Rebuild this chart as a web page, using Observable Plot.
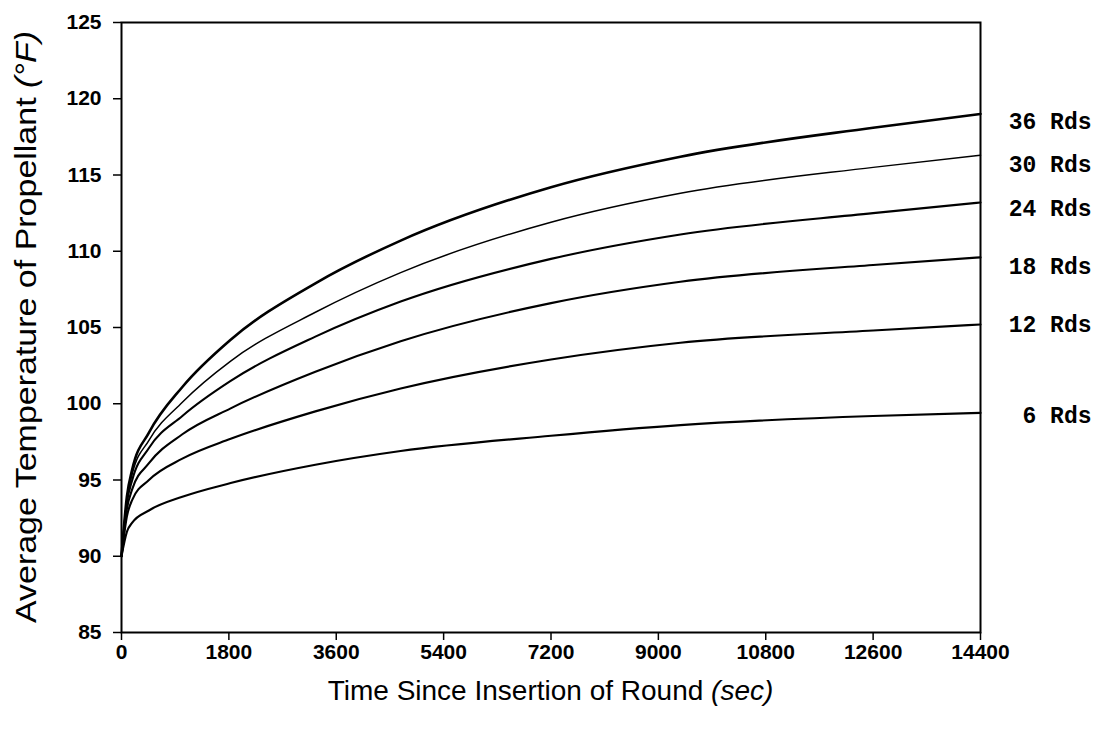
<!DOCTYPE html>
<html>
<head>
<meta charset="utf-8">
<script src="https://cdn.jsdelivr.net/npm/d3@7"></script>
<script src="https://cdn.jsdelivr.net/npm/@observablehq/plot@0.6"></script>
<style>
  html, body { margin: 0; padding: 0; background: #fff; }
  #chart svg g[aria-label$="tick label"] text { font-size: 21px; font-weight: bold; }
</style>
</head>
<body>
<div id="chart"></div>
<script>
// ---- Data ----
const times = [0, 90, 180, 460, 1020, 1830, 3250, 4680, 7200, 9370, 12600, 14400];
const rds36 = [90, 93.9, 95.7, 98.1, 101.1, 104.2, 107.9, 110.7, 114.2, 116.2, 118.1, 119.0];
const rds30 = [90, 93.7, 95.4, 97.6, 100.1, 102.8, 106.0, 108.6, 111.9, 113.8, 115.5, 116.3];
const rds24 = [90, 93.5, 95.0, 97.1, 99.2, 101.5, 104.4, 106.7, 109.5, 111.1, 112.5, 113.2];
const rds18 = [90, 93.1, 94.4, 96.1, 98.0, 99.7, 102.1, 104.1, 106.6, 108.0, 109.1, 109.6];
const rds12 = [90, 92.6, 93.7, 95.0, 96.4, 97.7, 99.5, 101.0, 102.9, 104.0, 104.8, 105.2];
const rds6  = [90, 91.6, 92.2, 93.0, 93.9, 94.8, 96.0, 96.9, 97.9, 98.6, 99.2, 99.4];
const seriesNames = ["36 Rds", "30 Rds", "24 Rds", "18 Rds", "12 Rds", "6 Rds"];
const seriesValues = [rds36, rds30, rds24, rds18, rds12, rds6];
const labelTemps = [118.5, 115.65, 112.8, 109.0, 105.2, 99.2];
const xTicks = [0, 1800, 3600, 5400, 7200, 9000, 10800, 12600, 14400];
const yTicks = [85, 90, 95, 100, 105, 110, 115, 120, 125];
const xTitle = "Time Since Insertion of Round ";
const xTitleUnit = "(sec)";
const yTitle = "Average Temperature of Propellant ";
const yTitleUnit = "(°F)";

// ---- Styles ----
const lineWidths = {"36 Rds": 2.6, "30 Rds": 1.5, "24 Rds": 2.1, "18 Rds": 2.1, "12 Rds": 2.1, "6 Rds": 2.1};

const rows = seriesNames.flatMap((name, i) =>
  times.map((t, j) => ({series: name, t, v: seriesValues[i][j]})));
const labelRows = seriesNames.map((name, i) => ({name, t: times[times.length - 1], v: labelTemps[i]}));

const W = 1094, H = 738;
const mL = 121, mR = 114, mT = 22, mB = 106;

const svg = Plot.plot({
  width: W,
  height: H,
  marginLeft: mL,
  marginRight: mR,
  marginTop: mT,
  marginBottom: mB,
  style: {fontFamily: "'Liberation Sans', Arial, sans-serif", fontSize: "20px", color: "#000", background: "#fff", overflow: "visible"},
  x: {domain: [0, 14400]},
  y: {domain: [85, 125]},
  marks: [
    Plot.axisY(yTicks, {tickSize: 8, tickPadding: 12, label: null, strokeWidth: 1.5, tickFormat: d => String(d)}),
    Plot.axisX(xTicks, {tickSize: 8, tickPadding: 4, label: null, strokeWidth: 1.5, tickFormat: d => String(d)}),
    ...seriesNames.map(name => Plot.line(rows.filter(d => d.series === name), {
      x: "t", y: "v", curve: "monotone-x", stroke: "#000", strokeWidth: lineWidths[name]
    })),
    Plot.frame({stroke: "#000", strokeWidth: 2}),
    Plot.text(labelRows, {
      x: "t", y: "v", text: "name", textAnchor: "end", dx: 111,
      fontFamily: "'Liberation Mono', 'Courier New', monospace", fontWeight: "bold", fontSize: 23, fill: "#000"
    })
  ]
});

const s = d3.select(svg);
const cx = mL + (W - mL - mR) / 2;
const cy = mT + (H - mT - mB) / 2;

const xt = s.append("text")
  .attr("x", cx).attr("y", 700)
  .attr("text-anchor", "middle")
  .attr("font-size", 28)
  .attr("fill", "#000");
xt.append("tspan").text(xTitle);
xt.append("tspan").attr("font-style", "italic").text(xTitleUnit);

const yt = s.append("text")
  .attr("transform", `translate(36,${cy}) rotate(-90)`)
  .attr("text-anchor", "middle")
  .attr("font-size", 29)
  .attr("textLength", 592)
  .attr("lengthAdjust", "spacingAndGlyphs")
  .attr("fill", "#000");
yt.append("tspan").text(yTitle);
yt.append("tspan").attr("font-style", "italic").text(yTitleUnit);

document.getElementById("chart").appendChild(svg);
</script>
</body>
</html>
